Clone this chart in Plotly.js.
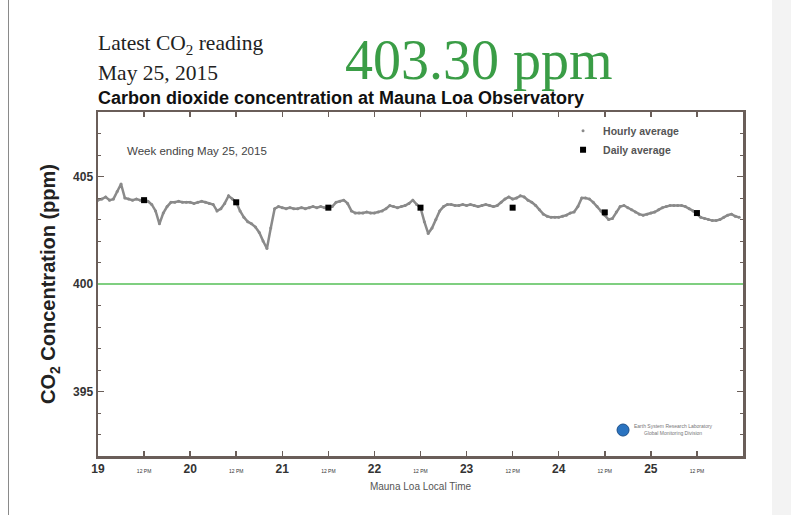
<!DOCTYPE html>
<html>
<head>
<meta charset="utf-8">
<script src="https://cdn.plot.ly/plotly-3.0.1.min.js"></script>
<style>
  html, body { margin: 0; padding: 0; background: #ffffff; width: 791px; height: 515px; overflow: hidden; }
  #leftline { position: absolute; left: 8px; top: 0; width: 1px; height: 515px; background: #8a8a8a; }
  #rightband { position: absolute; left: 772px; top: 0; width: 19px; height: 515px; background: #f3f3f3; }
  #chart { position: absolute; left: 9px; top: 0; width: 763px; height: 515px; }
</style>
</head>
<body>
<div id="leftline"></div>
<div id="rightband"></div>
<div id="chart"></div>
<script>
// ---- data ----
const days = [19, 20, 21, 22, 23, 24, 25];
const hourly19 = [403.90, 403.95, 404.05, 403.90, 403.95, 404.30, 404.65, 404.00, 403.95, 403.90, 403.95, 403.90,
                  403.90, 403.85, 403.70, 403.40, 402.80, 403.30, 403.60, 403.80, 403.80, 403.85, 403.80, 403.80];
const hourly20 = [403.80, 403.75, 403.80, 403.85, 403.80, 403.75, 403.70, 403.40, 403.50, 403.75, 404.10, 403.95,
                  403.80, 403.40, 403.10, 402.90, 402.80, 402.65, 402.40, 402.00, 401.65, 402.60, 403.50, 403.60];
const hourly21 = [403.55, 403.50, 403.55, 403.50, 403.50, 403.55, 403.50, 403.55, 403.60, 403.55, 403.60, 403.55,
                  403.55, 403.60, 403.80, 403.85, 403.90, 403.75, 403.40, 403.30, 403.30, 403.30, 403.35, 403.30];
const hourly22 = [403.30, 403.35, 403.40, 403.50, 403.65, 403.60, 403.55, 403.60, 403.65, 403.75, 403.90, 403.70,
                  403.55, 402.90, 402.35, 402.60, 403.00, 403.40, 403.60, 403.70, 403.70, 403.65, 403.65, 403.70];
const hourly23 = [403.65, 403.70, 403.65, 403.60, 403.65, 403.70, 403.65, 403.60, 403.65, 403.80, 403.95, 404.05,
                  403.95, 404.00, 404.10, 404.05, 403.90, 403.80, 403.65, 403.45, 403.25, 403.15, 403.10, 403.10];
const hourly24 = [403.10, 403.15, 403.20, 403.30, 403.35, 403.60, 404.00, 404.00, 403.95, 403.80, 403.60, 403.40,
                  403.20, 403.00, 403.05, 403.35, 403.60, 403.65, 403.55, 403.45, 403.35, 403.25, 403.20, 403.25];
const hourly25 = [403.30, 403.35, 403.45, 403.55, 403.60, 403.65, 403.65, 403.65, 403.65, 403.60, 403.50, 403.40,
                  403.25, 403.10, 403.05, 403.00, 402.95, 402.95, 403.00, 403.10, 403.20, 403.25, 403.15, 403.10];
const dailyAvg = [403.90, 403.80, 403.55, 403.55, 403.55, 403.33, 403.30];
const yTickVals = [395, 400, 405];
const noonLabel = "12 PM";
const referenceLevel = 400;
const latestValue = "403.30 ppm";

// ---- build traces ----
const hourlyByDay = [hourly19, hourly20, hourly21, hourly22, hourly23, hourly24, hourly25];
const hx = [], hy = [];
hourlyByDay.forEach((vals, di) => {
  vals.forEach((v, h) => { hx.push(days[di] + h / 24); hy.push(v); });
});
const dx = days.map(d => d + 0.5);

const xTickVals = [], xTickText = [];
days.forEach(d => {
  xTickVals.push(d); xTickText.push("<b>" + d + "</b>");
  xTickVals.push(d + 0.5); xTickText.push("<span style='font-size:5px;font-weight:normal'>" + noonLabel + "</span>");
});

const frame = "#6a5e59";
const hourlyColor = "#8a8a8a";

const traces = [
  { x: hx, y: hy, type: "scatter", mode: "lines", line: { color: hourlyColor, width: 2.5 },
    showlegend: false, hoverinfo: "skip" },
  { x: hx, y: hy, type: "scatter", mode: "markers", name: "Hourly average",
    marker: { color: hourlyColor, size: 3 } },
  { x: dx, y: dailyAvg, type: "scatter", mode: "markers", name: "Daily average",
    marker: { color: "#000000", size: 6, symbol: "square" } }
];

// plot area spans x 98..743, y 112..456 in the page
const layout = {
  width: 763, height: 515,
  margin: { l: 89, r: 29, t: 112, b: 59 },
  paper_bgcolor: "#ffffff", plot_bgcolor: "#ffffff",
  font: { family: "Liberation Sans, Arial, sans-serif", color: "#222" },
  showlegend: true,
  legend: { x: 0.721, y: 0.988, xanchor: "left", yanchor: "top", bgcolor: "rgba(0,0,0,0)",
            font: { size: 10.5, color: "#555", weight: "bold" }, tracegroupgap: 0 },
  xaxis: {
    range: [19, 26], tickmode: "array", tickvals: xTickVals, ticktext: xTickText,
    ticks: "inside", ticklen: 5, tickwidth: 1.5, tickcolor: frame,
    showline: true, linewidth: 2.5, linecolor: frame, mirror: "ticks",
    showgrid: false, zeroline: false,
    tickfont: { family: "Liberation Sans Narrow, Arial Narrow, Liberation Sans, sans-serif", size: 12, color: "#333" },
    title: { text: "Mauna Loa Local Time", font: { size: 10, color: "#555" }, standoff: 8 }
  },
  yaxis: {
    range: [392, 408], tickmode: "array", tickvals: yTickVals,
    ticks: "inside", ticklen: 6, tickwidth: 1.5, tickcolor: frame,
    minor: { dtick: 1, tick0: 392, ticks: "inside", ticklen: 3, tickcolor: frame, tickwidth: 1 },
    showline: true, linewidth: 2.5, linecolor: frame, mirror: "ticks",
    showgrid: false, zeroline: false,
    tickfont: { family: "Liberation Sans Narrow, Arial Narrow, Liberation Sans, sans-serif", size: 12, color: "#333", weight: "bold" },
    title: { text: "<b>CO<sub>2</sub> Concentration (ppm)</b>", font: { size: 20, color: "#222" }, standoff: 12 }
  },
  shapes: [
    { type: "line", xref: "paper", x0: 0, x1: 1, yref: "y", y0: referenceLevel, y1: referenceLevel,
      line: { color: "#7fcf80", width: 2 } },
    { type: "circle", xref: "paper", yref: "paper", x0: 0.8047, x1: 0.8233, y0: 0.058, y1: 0.093,
      fillcolor: "#2a73c0", line: { color: "#1b4f8a", width: 1 } }
  ],
  annotations: [
    { xref: "paper", yref: "paper", x: -0.003, y: 1.195, xanchor: "left", yanchor: "middle", showarrow: false,
      text: "Latest CO<sub>2</sub> reading", font: { family: "Liberation Serif, Times New Roman, serif", size: 21.5, color: "#222" } },
    { xref: "paper", yref: "paper", x: -0.003, y: 1.113, xanchor: "left", yanchor: "middle", showarrow: false,
      text: "May 25, 2015", font: { family: "Liberation Serif, Times New Roman, serif", size: 21.5, color: "#222" } },
    { xref: "paper", yref: "paper", x: 0.590, y: 1.152, xanchor: "center", yanchor: "middle", showarrow: false,
      text: latestValue, font: { family: "Liberation Serif, Times New Roman, serif", size: 56, color: "#3a9d46" } },
    { xref: "paper", yref: "paper", x: -0.003, y: 1.041, xanchor: "left", yanchor: "middle", showarrow: false,
      text: "<b>Carbon dioxide concentration at Mauna Loa Observatory</b>", font: { size: 18, color: "#111" } },
    { xref: "paper", yref: "paper", x: 0.042, y: 0.887, xanchor: "left", yanchor: "middle", showarrow: false,
      text: "Week ending May 25, 2015", font: { size: 11.5, color: "#444" } },
    { xref: "paper", yref: "paper", x: 0.828, y: 0.077, xanchor: "left", yanchor: "middle", showarrow: false,
      text: "Earth System Research Laboratory<br>Global Monitoring Division", font: { size: 5, color: "#777" } }
  ]
};

Plotly.newPlot("chart", traces, layout, { staticPlot: true, displayModeBar: false });
</script>
</body>
</html>
